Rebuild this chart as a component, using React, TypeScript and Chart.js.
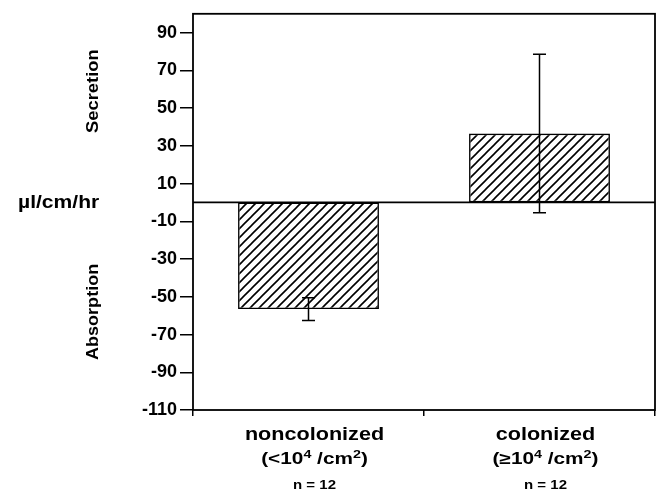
import React, { useEffect, useRef } from "react";
import { Chart, registerables } from "chart.js";

Chart.register(...registerables);

const categories = ["noncolonized", "colonized"];
const densitySigns = ["<", "≥"];
const sampleSizes = ["n = 12", "n = 12"];
const means = [-56.5, 36.5];
const errors = [6, 42];
const yTicks = [90, 70, 50, 30, 10, -10, -30, -50, -70, -90, -110];
const yMin = -110;
const yMax = 100;

const FONT = "'Liberation Sans', Arial, Helvetica, sans-serif";

function makeHatch(): CanvasPattern | string {
  const s = 9;
  const c = document.createElement("canvas");
  c.width = s;
  c.height = s;
  const g = c.getContext("2d");
  if (!g) return "#fff";
  g.fillStyle = "#fff";
  g.fillRect(0, 0, s, s);
  g.strokeStyle = "#000";
  g.lineWidth = 1.6;
  g.beginPath();
  g.moveTo(-1, s + 1);
  g.lineTo(s + 1, -1);
  g.moveTo(-1, 1);
  g.lineTo(1, -1);
  g.moveTo(s - 1, s + 1);
  g.lineTo(s + 1, s - 1);
  g.stroke();
  return g.createPattern(c, "repeat") || "#fff";
}

function stretchText(ctx: CanvasRenderingContext2D, t: string, x: number, y: number, sx: number, align: "left" | "center") {
  ctx.save();
  ctx.translate(x, y);
  ctx.scale(sx, 1);
  ctx.textAlign = align;
  ctx.fillText(t, 0, 0);
  ctx.restore();
}

const decorPlugin = {
  id: "decor",
  beforeDatasetsDraw(chart: any) {
    const { ctx, chartArea, scales } = chart;
    const y0 = scales.y.getPixelForValue(0);
    ctx.save();
    ctx.strokeStyle = "#000";
    ctx.lineWidth = 1.8;
    ctx.beginPath();
    ctx.moveTo(chartArea.left, y0);
    ctx.lineTo(chartArea.right, y0);
    ctx.stroke();
    ctx.restore();
  },
  afterDatasetsDraw(chart: any) {
    const { ctx, chartArea, scales } = chart;
    const meta = chart.getDatasetMeta(0);
    ctx.save();
    ctx.strokeStyle = "#000";
    ctx.lineWidth = 1.5;
    meta.data.forEach((bar: any, i: number) => {
      const x = bar.x;
      const top = scales.y.getPixelForValue(means[i] + errors[i]);
      const bot = scales.y.getPixelForValue(means[i] - errors[i]);
      ctx.beginPath();
      ctx.moveTo(x, top);
      ctx.lineTo(x, bot);
      ctx.moveTo(x - 6.5, top);
      ctx.lineTo(x + 6.5, top);
      ctx.moveTo(x - 6.5, bot);
      ctx.lineTo(x + 6.5, bot);
      ctx.stroke();
    });
    ctx.lineWidth = 1.8;
    ctx.strokeRect(chartArea.left, chartArea.top, chartArea.right - chartArea.left, chartArea.bottom - chartArea.top);
    ctx.restore();
  },
  afterDraw(chart: any) {
    const { ctx, scales } = chart;
    ctx.save();
    ctx.fillStyle = "#000";
    ctx.textBaseline = "middle";
    ctx.font = `bold 17px ${FONT}`;
    const drawRot = (t: string, x: number, y: number, s: number) => {
      ctx.save();
      ctx.translate(x, y);
      ctx.rotate(-Math.PI / 2);
      ctx.scale(s, 1);
      ctx.textAlign = "center";
      ctx.fillText(t, 0, 0);
      ctx.restore();
    };
    drawRot("Secretion", 93, scales.y.getPixelForValue(59), 1.08);
    drawRot("Absorption", 93, scales.y.getPixelForValue(-58), 1.06);
    ctx.textBaseline = "alphabetic";
    ctx.font = `bold 18px ${FONT}`;
    stretchText(ctx, "µl/cm/hr", 18, 208, 1.17, "left");

    categories.forEach((cat, i) => {
      const x = scales.x.getPixelForValue(i) + 6;
      ctx.textBaseline = "alphabetic";
      ctx.font = `bold 18px ${FONT}`;
      stretchText(ctx, cat, x, 440, 1.2, "center");
      const sx = 1.3;
      const segs = [
        { t: "(" + densitySigns[i] + "10", sup: false },
        { t: "4", sup: true },
        { t: " /cm", sup: false },
        { t: "2", sup: true },
        { t: ")", sup: false },
      ];
      const mainF = `bold 16px ${FONT}`;
      const supF = `bold 11px ${FONT}`;
      let total = 0;
      segs.forEach((s) => {
        ctx.font = s.sup ? supF : mainF;
        total += ctx.measureText(s.t).width;
      });
      ctx.save();
      ctx.translate(x, 0);
      ctx.scale(sx, 1);
      let cx = -total / 2;
      ctx.textAlign = "left";
      segs.forEach((s) => {
        ctx.font = s.sup ? supF : mainF;
        ctx.fillText(s.t, cx, s.sup ? 458 : 464);
        cx += ctx.measureText(s.t).width;
      });
      ctx.restore();
      ctx.font = `bold 12px ${FONT}`;
      stretchText(ctx, sampleSizes[i], x, 489, 1.25, "center");
    });
    ctx.restore();
  },
};

export default function App() {
  const ref = useRef<HTMLCanvasElement>(null);
  useEffect(() => {
    document.body.style.margin = "0";
    const canvas = ref.current;
    if (!canvas) return;
    Chart.defaults.font.family = FONT;
    const chart = new Chart(canvas, {
      type: "bar",
      data: {
        labels: categories,
        datasets: [
          {
            data: means,
            backgroundColor: makeHatch() as any,
            borderColor: "#000",
            borderWidth: 1.6,
            borderSkipped: false,
            barPercentage: 0.61,
            categoryPercentage: 1,
          },
        ],
      },
      options: {
        animation: false,
        responsive: false,
        layout: { padding: { top: 12, right: 7, left: 0, bottom: 0 } },
        plugins: { legend: { display: false }, tooltip: { enabled: false } },
        scales: {
          x: {
            offset: true,
            grid: {
              offset: true,
              drawOnChartArea: false,
              drawTicks: true,
              tickLength: 6,
              color: "#000",
              lineWidth: 1.5,
            },
            border: { display: false },
            ticks: { display: false },
            afterFit: (s: any) => {
              s.height = 81;
            },
          },
          y: {
            min: yMin,
            max: yMax,
            afterBuildTicks: (s: any) => {
              s.ticks = yTicks.map((v) => ({ value: v }));
            },
            grid: {
              drawOnChartArea: false,
              drawTicks: true,
              tickLength: 13,
              color: "#000",
              lineWidth: 1.5,
            },
            border: { display: false },
            ticks: {
              color: "#000",
              padding: 3,
              font: { size: 18, weight: "bold", family: FONT },
            },
            afterFit: (s: any) => {
              s.width = 193;
            },
          },
        },
      },
      plugins: [decorPlugin],
    });
    return () => chart.destroy();
  }, []);
  return (
    <div style={{ width: 662, height: 491 }}>
      <canvas ref={ref} width={662} height={491} />
    </div>
  );
}
